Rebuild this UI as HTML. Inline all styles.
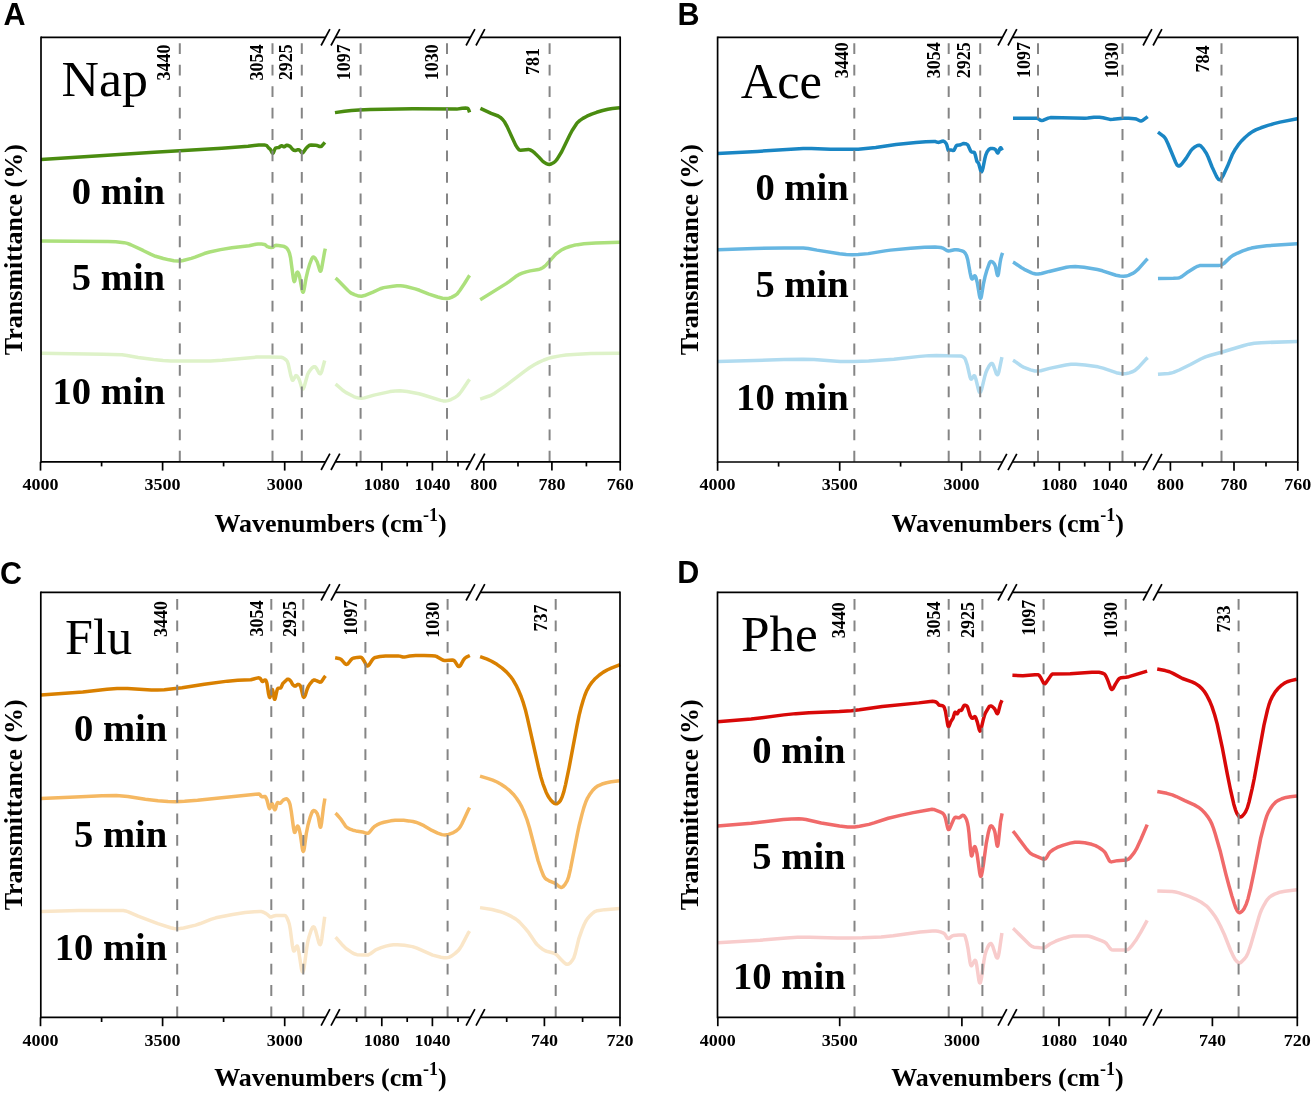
<!DOCTYPE html>
<html><head><meta charset="utf-8"><style>
html,body{margin:0;padding:0;background:#fff;}
body{width:1314px;height:1096px;overflow:hidden;}
svg{display:block;will-change:transform;}
</style></head><body>
<svg width="1314" height="1096" viewBox="0 0 1314 1096">
<rect width="1314" height="1096" fill="#fff"/>
<path d="M41.10,159.58 154.10,152.24 221.85,148.35 248.10,146.28 258.85,144.91 264.35,145.04 266.35,145.36 267.10,146.01 268.60,147.86 270.35,149.31 272.10,152.65 272.60,153.23 272.85,153.25 273.35,152.72 274.85,149.19 275.35,148.32 275.85,147.88 278.85,147.52 280.85,146.01 281.60,145.70 282.35,145.89 283.60,146.68 284.35,146.73 286.10,145.50 286.85,145.29 288.35,145.58 290.10,146.44 292.35,149.14 293.85,150.27 295.35,150.60 297.85,149.72 298.85,149.69 299.60,150.17 301.60,152.51 302.35,152.86 302.85,152.71 303.35,152.28 306.35,148.00 308.35,146.15 309.60,145.31 311.35,144.92 315.35,145.16 316.85,145.48 319.60,146.51 320.60,146.60 321.35,146.33 322.10,145.71 324.90,142.38" fill="none" stroke="#4a8c10" stroke-width="3.5" stroke-linejoin="round" stroke-linecap="butt"/>
<path d="M40.80,240.90 108.05,241.42 115.80,241.81 124.05,242.66 127.30,243.41 130.80,244.74 143.05,250.46 151.05,254.43 155.55,256.28 163.30,258.47 169.05,259.85 173.80,260.65 178.30,260.99 180.55,260.92 183.05,260.54 191.30,258.33 195.05,257.10 204.30,253.55 209.55,252.05 220.55,249.62 231.80,247.70 249.05,245.73 255.80,244.28 258.05,244.02 261.55,244.10 264.30,244.39 265.30,244.86 266.80,246.23 267.55,246.68 269.30,247.21 271.30,247.54 272.80,247.31 274.80,245.70 275.80,245.35 278.30,245.44 281.55,245.91 284.30,246.57 285.80,247.33 287.30,248.78 288.55,250.82 289.55,253.48 290.55,257.74 293.30,278.20 293.80,280.77 294.30,281.59 294.80,280.77 296.80,272.80 297.30,272.13 297.55,272.10 298.05,272.53 298.80,273.97 299.55,276.36 302.05,290.09 302.55,291.72 303.05,292.20 303.55,291.45 304.05,289.59 306.05,278.22 308.05,269.67 309.80,263.82 311.80,258.69 312.80,257.24 313.55,257.04 314.55,257.68 315.55,258.95 317.30,262.25 319.80,270.52 320.30,271.24 320.55,271.26 321.05,270.50 321.80,267.51 324.55,251.89 325.30,248.61" fill="none" stroke="#ace07c" stroke-width="3.5" stroke-linejoin="round" stroke-linecap="butt"/>
<path d="M41.10,353.24 102.85,354.22 122.10,354.82 127.10,355.41 138.10,357.49 153.60,359.56 163.10,360.57 170.85,360.96 210.35,360.89 222.10,360.17 256.85,357.09 268.60,357.02 281.10,357.28 282.85,357.78 284.60,358.78 286.35,360.21 287.35,361.52 288.35,364.31 290.85,375.82 292.10,379.75 292.60,380.30 293.10,380.21 295.60,375.89 296.10,375.61 296.85,375.90 297.85,377.13 299.10,379.44 299.85,381.39 301.60,387.44 302.10,388.60 302.60,389.12 302.85,389.12 303.35,388.64 304.10,386.95 307.60,374.51 308.60,372.48 310.60,369.61 311.85,368.16 313.10,367.11 314.10,366.66 315.10,366.76 316.35,368.13 319.10,373.13 319.85,373.82 320.35,373.84 321.10,372.96 321.85,371.01 324.70,360.49" fill="none" stroke="#def2c8" stroke-width="3.5" stroke-linejoin="round" stroke-linecap="butt"/>
<path d="M334.97,112.63 344.47,111.24 351.47,110.52 358.97,109.97 369.97,109.51 384.47,109.13 412.72,108.80 456.72,109.11 462.22,108.27 465.72,108.04 466.97,108.15 467.97,108.66 468.72,109.92 469.59,112.40" fill="none" stroke="#4a8c10" stroke-width="3.5" stroke-linejoin="round" stroke-linecap="butt"/>
<path d="M335.48,278.04 336.48,278.82 347.98,290.46 350.23,292.48 351.73,293.44 354.48,294.70 358.73,296.06 361.48,296.23 364.48,295.58 372.98,292.10 380.23,288.78 383.73,287.61 392.98,286.16 396.98,285.82 400.48,285.76 402.98,285.95 405.98,286.45 415.23,288.85 419.48,290.27 428.98,294.14 437.73,296.98 442.48,298.21 446.48,298.59 448.98,298.24 451.48,297.36 455.23,295.36 457.23,293.84 459.98,290.29 464.48,283.49 468.73,276.60 469.66,275.39" fill="none" stroke="#ace07c" stroke-width="3.5" stroke-linejoin="round" stroke-linecap="butt"/>
<path d="M335.48,384.10 336.73,384.97 342.73,390.26 345.73,392.40 353.73,396.54 356.48,397.57 358.73,398.10 361.48,398.26 364.48,397.87 373.98,395.15 389.98,391.60 395.23,390.90 399.98,390.79 407.23,391.54 418.98,393.79 423.48,395.00 440.73,400.37 443.23,400.89 445.48,401.00 447.98,400.61 450.98,399.54 455.48,397.19 457.73,395.58 459.48,393.75 461.23,391.52 467.98,381.45 469.66,379.39" fill="none" stroke="#def2c8" stroke-width="3.5" stroke-linejoin="round" stroke-linecap="butt"/>
<path d="M480.40,108.41 491.15,113.38 498.15,115.99 500.40,117.41 502.65,119.48 504.65,122.05 507.15,126.62 515.65,145.11 517.40,147.88 518.90,149.67 519.65,150.13 520.65,150.25 528.40,149.44 529.40,149.61 530.65,150.12 532.65,151.26 534.40,152.65 538.90,157.12 542.15,160.68 543.65,162.03 546.90,163.92 548.15,164.35 549.15,164.46 551.15,164.02 553.90,162.54 555.40,161.26 557.15,159.07 561.65,151.75 569.90,134.71 572.15,130.48 576.40,123.97 577.90,122.22 579.65,120.64 582.90,118.36 586.90,116.20 591.65,114.10 596.65,112.30 602.65,110.52 607.90,109.28 612.40,108.55 619.80,107.72" fill="none" stroke="#4a8c10" stroke-width="3.5" stroke-linejoin="round" stroke-linecap="butt"/>
<path d="M480.18,299.67 506.18,283.62 509.43,281.39 515.68,276.52 518.68,274.65 522.18,273.15 526.18,271.83 530.18,270.87 538.43,269.56 540.43,268.91 542.68,267.74 544.43,266.55 546.18,264.93 554.43,255.55 556.43,253.55 560.93,250.30 565.18,248.12 569.68,246.49 573.93,245.33 577.68,244.65 583.93,243.86 595.68,243.03 619.82,242.33" fill="none" stroke="#ace07c" stroke-width="3.5" stroke-linejoin="round" stroke-linecap="butt"/>
<path d="M480.18,399.12 489.18,396.03 491.93,394.81 494.43,393.43 505.68,385.68 524.43,371.32 529.43,367.80 534.68,364.53 538.68,362.35 543.93,360.01 548.43,358.33 552.68,357.20 559.93,355.87 565.93,355.10 573.43,354.48 590.93,353.58 619.82,353.20" fill="none" stroke="#def2c8" stroke-width="3.5" stroke-linejoin="round" stroke-linecap="butt"/>
<line x1="179.8" y1="43.3" x2="179.8" y2="461.8" stroke="#858585" stroke-width="2" stroke-dasharray="10.8 10.65"/>
<line x1="272.5" y1="43.3" x2="272.5" y2="461.8" stroke="#858585" stroke-width="2" stroke-dasharray="10.8 10.65"/>
<line x1="301.8" y1="43.3" x2="301.8" y2="461.8" stroke="#858585" stroke-width="2" stroke-dasharray="10.8 10.65"/>
<line x1="360.6" y1="43.3" x2="360.6" y2="461.8" stroke="#858585" stroke-width="2" stroke-dasharray="10.8 10.65"/>
<line x1="447.0" y1="43.3" x2="447.0" y2="461.8" stroke="#858585" stroke-width="2" stroke-dasharray="10.8 10.65"/>
<line x1="549.6" y1="43.3" x2="549.6" y2="461.8" stroke="#858585" stroke-width="2" stroke-dasharray="10.8 10.65"/>
<g stroke="#000" stroke-width="1.7" fill="none">
<path d="M41.0,37.3 V461.8" stroke-linecap="square"/>
<path d="M620.2,37.3 V461.8" stroke-linecap="square"/>
<path d="M41.0,37.3 H325.5 M335.4,37.3 H470.5 M480.4,37.3 H620.2"/>
<path d="M321.1,45.5 L329.9,29.1"/>
<path d="M331.0,45.5 L339.8,29.1"/>
<path d="M466.1,45.5 L474.9,29.1"/>
<path d="M476.0,45.5 L484.8,29.1"/>
<path d="M41.0,461.8 H325.5 M335.4,461.8 H470.5 M480.4,461.8 H620.2"/>
<path d="M321.1,470.0 L329.9,453.6"/>
<path d="M331.0,470.0 L339.8,453.6"/>
<path d="M466.1,470.0 L474.9,453.6"/>
<path d="M476.0,470.0 L484.8,453.6"/>
<path d="M40.5,461.8 V470.6"/>
<path d="M162.6,461.8 V470.6"/>
<path d="M284.7,461.8 V470.6"/>
<path d="M381.8,461.8 V470.6"/>
<path d="M432.4,461.8 V470.6"/>
<path d="M483.8,461.8 V470.6"/>
<path d="M551.9,461.8 V470.6"/>
<path d="M620.2,461.8 V470.6"/>
<path d="M101.6,461.8 V466.4"/>
<path d="M223.6,461.8 V466.4"/>
<path d="M356.6,461.8 V466.4"/>
<path d="M407.2,461.8 V466.4"/>
<path d="M458.0,461.8 V466.4"/>
<path d="M518.0,461.8 V466.4"/>
<path d="M586.4,461.8 V466.4"/>
</g>
<text transform="translate(40.5,490.0) scale(1.03,1)" text-anchor="middle" font-family='"Liberation Serif", serif' font-weight="bold" font-size="17.5">4000</text>
<text transform="translate(162.6,490.0) scale(1.03,1)" text-anchor="middle" font-family='"Liberation Serif", serif' font-weight="bold" font-size="17.5">3500</text>
<text transform="translate(284.7,490.0) scale(1.03,1)" text-anchor="middle" font-family='"Liberation Serif", serif' font-weight="bold" font-size="17.5">3000</text>
<text transform="translate(381.8,490.0) scale(1.03,1)" text-anchor="middle" font-family='"Liberation Serif", serif' font-weight="bold" font-size="17.5">1080</text>
<text transform="translate(432.4,490.0) scale(1.03,1)" text-anchor="middle" font-family='"Liberation Serif", serif' font-weight="bold" font-size="17.5">1040</text>
<text transform="translate(483.8,490.0) scale(1.03,1)" text-anchor="middle" font-family='"Liberation Serif", serif' font-weight="bold" font-size="17.5">800</text>
<text transform="translate(551.9,490.0) scale(1.03,1)" text-anchor="middle" font-family='"Liberation Serif", serif' font-weight="bold" font-size="17.5">780</text>
<text transform="translate(620.2,490.0) scale(1.03,1)" text-anchor="middle" font-family='"Liberation Serif", serif' font-weight="bold" font-size="17.5">760</text>
<text transform="translate(170.00,62.55) rotate(-90)" text-anchor="middle" font-family='"Liberation Serif", serif' font-weight="bold" font-size="18">3440</text>
<text transform="translate(262.80,62.40) rotate(-90)" text-anchor="middle" font-family='"Liberation Serif", serif' font-weight="bold" font-size="18">3054</text>
<text transform="translate(292.00,62.30) rotate(-90)" text-anchor="middle" font-family='"Liberation Serif", serif' font-weight="bold" font-size="18">2925</text>
<text transform="translate(349.70,62.20) rotate(-90)" text-anchor="middle" font-family='"Liberation Serif", serif' font-weight="bold" font-size="18">1097</text>
<text transform="translate(438.20,62.20) rotate(-90)" text-anchor="middle" font-family='"Liberation Serif", serif' font-weight="bold" font-size="18">1030</text>
<text transform="translate(538.90,61.60) rotate(-90)" text-anchor="middle" font-family='"Liberation Serif", serif' font-weight="bold" font-size="18">781</text>
<text transform="translate(61.60,96.3) scale(1.037,1)" font-family='"Liberation Serif", serif' font-size="50">Nap</text>
<text transform="translate(165.1,203.9) scale(1.03,1)" text-anchor="end" font-family='"Liberation Serif", serif' font-weight="bold" font-size="37.5">0 min</text>
<text transform="translate(165.1,290.0) scale(1.03,1)" text-anchor="end" font-family='"Liberation Serif", serif' font-weight="bold" font-size="37.5">5 min</text>
<text transform="translate(165.1,404.4) scale(1.03,1)" text-anchor="end" font-family='"Liberation Serif", serif' font-weight="bold" font-size="37.5">10 min</text>
<text x="3.4" y="24.8" font-family='"Liberation Sans", sans-serif' font-weight="bold" font-size="30.5">A</text>
<text transform="translate(21.6,249.6) rotate(-90)" text-anchor="middle" font-family='"Liberation Serif", serif' font-weight="bold" font-size="26">Transmittance (%)</text>
<text x="330.6" y="532.0" text-anchor="middle" font-family='"Liberation Serif", serif' font-weight="bold" font-size="26">Wavenumbers (cm<tspan font-size="18" dy="-11.5">-1</tspan><tspan dy="11.5">)</tspan></text>
<path d="M717.50,153.39 757.25,151.38 803.25,148.46 811.50,148.47 830.50,149.29 858.25,149.17 875.75,147.41 896.00,144.56 916.00,142.45 925.75,141.69 934.00,141.41 935.50,141.52 937.75,142.34 938.75,142.42 942.25,141.22 943.25,141.11 944.00,141.36 944.75,141.90 946.25,143.57 946.75,144.80 948.00,149.68 948.25,150.19 948.75,150.52 950.75,149.90 953.00,150.51 953.75,150.32 954.50,149.34 956.00,146.21 956.50,145.59 957.00,145.30 959.75,145.06 962.75,143.73 963.75,143.47 965.50,143.67 967.25,144.49 968.25,145.68 970.25,150.29 971.00,151.44 971.75,151.89 973.75,152.14 974.50,152.71 975.25,154.78 976.75,160.90 977.25,161.83 978.25,162.85 978.75,163.73 980.75,170.94 981.25,171.74 981.50,171.76 982.25,170.50 983.00,167.91 985.00,157.93 985.75,155.10 987.00,152.07 988.50,149.97 989.75,148.96 991.00,148.41 992.25,148.38 993.75,148.72 994.75,149.12 995.50,149.66 997.25,152.68 997.75,153.03 998.00,152.92 998.50,152.13 999.75,148.68 1000.50,147.67 1000.75,147.72 1001.25,148.30 1002.30,150.33" fill="none" stroke="#1a86c4" stroke-width="3.5" stroke-linejoin="round" stroke-linecap="butt"/>
<path d="M717.50,249.69 754.50,248.45 784.00,248.00 803.25,247.93 808.25,248.47 817.00,250.11 839.50,253.79 846.25,254.55 852.25,254.80 858.25,254.56 868.25,253.63 885.00,250.86 890.50,250.13 910.75,248.23 924.50,247.34 935.00,247.10 940.75,247.49 942.75,248.11 946.75,250.49 948.50,250.95 950.00,250.82 954.50,249.75 956.50,249.76 959.00,250.09 962.00,250.86 963.75,251.62 965.25,253.23 966.50,255.51 967.75,259.69 970.00,272.29 971.25,277.79 971.75,278.85 972.25,279.03 972.75,278.52 974.00,276.29 974.75,275.71 975.25,276.07 975.75,277.05 977.25,282.49 979.50,295.90 980.00,297.77 980.50,298.42 981.00,297.72 981.50,295.81 983.50,283.59 985.00,276.77 987.00,269.82 989.50,262.88 990.50,261.55 991.50,261.40 993.00,262.31 994.50,264.08 995.50,266.56 997.00,273.92 997.50,275.43 997.75,275.61 998.00,275.35 998.50,273.50 1000.00,262.97 1000.75,258.89 1001.75,255.16 1002.60,252.79" fill="none" stroke="#66b6e2" stroke-width="3.5" stroke-linejoin="round" stroke-linecap="butt"/>
<path d="M717.65,361.62 783.90,359.52 802.90,359.20 813.90,359.55 840.15,361.45 846.40,361.62 854.15,361.55 868.65,360.93 893.90,359.25 919.90,356.38 929.15,355.63 936.40,355.46 947.40,355.87 960.40,355.94 961.90,356.29 963.65,357.19 964.65,358.15 965.40,359.51 967.40,365.57 969.90,376.63 970.65,378.75 971.15,379.21 971.65,379.01 973.90,375.83 974.40,375.79 974.90,376.32 975.90,379.09 978.65,390.51 979.40,392.17 979.90,392.51 980.65,391.89 981.65,389.40 984.90,375.92 985.90,372.49 987.15,369.56 989.15,365.86 990.90,363.73 991.65,363.39 992.40,363.68 992.90,364.35 993.65,366.00 996.40,373.80 997.15,374.77 997.65,374.74 998.15,374.04 998.90,371.77 1001.91,357.19" fill="none" stroke="#b0dbf0" stroke-width="3.5" stroke-linejoin="round" stroke-linecap="butt"/>
<path d="M1012.99,118.26 1036.74,118.29 1037.99,118.62 1040.49,120.19 1041.74,120.49 1043.49,120.18 1048.24,118.11 1050.49,117.61 1084.99,118.25 1087.74,118.08 1093.99,117.25 1096.74,117.13 1099.49,117.32 1102.99,117.83 1109.99,119.39 1112.99,119.27 1122.99,118.28 1128.74,118.35 1134.49,118.67 1136.24,119.04 1139.74,120.75 1140.99,120.93 1141.99,120.71 1142.99,120.21 1147.69,116.60" fill="none" stroke="#1a86c4" stroke-width="3.5" stroke-linejoin="round" stroke-linecap="butt"/>
<path d="M1012.99,262.11 1014.24,262.78 1021.24,267.53 1024.24,269.30 1031.74,272.85 1033.74,273.55 1035.74,273.97 1038.24,274.00 1041.49,273.51 1049.24,271.43 1066.49,267.25 1070.99,266.64 1075.24,266.56 1083.99,267.31 1097.49,269.49 1102.49,270.79 1115.99,275.23 1119.99,276.06 1123.74,276.34 1125.99,276.08 1128.49,275.32 1132.74,273.42 1134.99,272.05 1138.49,268.87 1145.99,260.34 1147.69,258.76" fill="none" stroke="#66b6e2" stroke-width="3.5" stroke-linejoin="round" stroke-linecap="butt"/>
<path d="M1012.99,360.29 1014.49,361.14 1020.99,365.72 1023.99,367.45 1030.49,369.90 1034.99,370.96 1037.74,371.07 1040.74,370.69 1049.49,368.38 1065.74,364.96 1070.99,364.34 1075.99,364.29 1084.99,364.99 1097.99,366.82 1102.99,368.17 1116.24,372.71 1120.24,373.56 1123.99,373.82 1126.49,373.55 1129.24,372.84 1132.99,371.48 1134.99,370.39 1138.49,367.40 1145.99,359.13 1147.69,357.61" fill="none" stroke="#b0dbf0" stroke-width="3.5" stroke-linejoin="round" stroke-linecap="butt"/>
<path d="M1157.97,132.15 1162.97,135.79 1164.47,137.31 1165.72,139.06 1167.97,143.71 1175.72,162.54 1176.97,164.85 1178.22,166.00 1178.97,166.06 1179.97,165.64 1181.97,163.75 1186.22,158.17 1190.72,150.84 1192.47,148.89 1195.22,146.74 1197.47,145.54 1199.22,145.29 1199.97,145.48 1200.97,146.09 1203.22,148.59 1206.47,153.51 1208.22,157.26 1211.97,166.76 1216.22,175.88 1217.22,177.68 1218.22,179.01 1218.97,179.60 1219.72,179.76 1220.47,179.47 1221.22,178.77 1222.97,175.94 1227.47,166.30 1232.22,154.72 1235.47,148.94 1238.22,144.94 1241.22,141.26 1244.97,137.47 1248.72,134.23 1252.47,131.61 1256.22,129.67 1260.97,127.76 1267.97,125.44 1273.97,123.65 1279.97,122.14 1297.24,118.75" fill="none" stroke="#1a86c4" stroke-width="3.5" stroke-linejoin="round" stroke-linecap="butt"/>
<path d="M1157.97,278.62 1173.47,278.23 1177.97,277.98 1179.47,277.74 1181.72,276.63 1186.72,272.84 1194.72,267.73 1197.47,266.30 1199.72,265.58 1201.72,265.39 1219.22,265.38 1220.97,265.13 1222.47,264.44 1223.97,263.37 1230.22,257.37 1232.97,255.31 1237.72,253.03 1242.72,250.91 1247.22,249.30 1251.47,248.07 1257.22,246.96 1266.72,245.83 1281.47,244.66 1297.24,243.71" fill="none" stroke="#66b6e2" stroke-width="3.5" stroke-linejoin="round" stroke-linecap="butt"/>
<path d="M1157.97,374.27 1168.72,373.46 1170.97,373.10 1173.47,372.42 1179.22,370.01 1190.47,364.47 1200.72,358.99 1205.47,356.88 1210.47,355.24 1221.47,352.27 1243.97,345.51 1248.97,344.17 1254.22,343.20 1261.22,342.68 1297.24,341.43" fill="none" stroke="#b0dbf0" stroke-width="3.5" stroke-linejoin="round" stroke-linecap="butt"/>
<line x1="854.3" y1="43.3" x2="854.3" y2="462.0" stroke="#858585" stroke-width="2" stroke-dasharray="10.8 10.65"/>
<line x1="948.7" y1="43.3" x2="948.7" y2="462.0" stroke="#858585" stroke-width="2" stroke-dasharray="10.8 10.65"/>
<line x1="980.2" y1="43.3" x2="980.2" y2="462.0" stroke="#858585" stroke-width="2" stroke-dasharray="10.8 10.65"/>
<line x1="1038.0" y1="43.3" x2="1038.0" y2="462.0" stroke="#858585" stroke-width="2" stroke-dasharray="10.8 10.65"/>
<line x1="1122.5" y1="43.3" x2="1122.5" y2="462.0" stroke="#858585" stroke-width="2" stroke-dasharray="10.8 10.65"/>
<line x1="1221.5" y1="43.3" x2="1221.5" y2="462.0" stroke="#858585" stroke-width="2" stroke-dasharray="10.8 10.65"/>
<g stroke="#000" stroke-width="1.7" fill="none">
<path d="M717.6,37.3 V462.0" stroke-linecap="square"/>
<path d="M1297.8,37.3 V462.0" stroke-linecap="square"/>
<path d="M717.6,37.3 H1002.4 M1012.4,37.3 H1147.5 M1157.5,37.3 H1297.8"/>
<path d="M998.0,45.5 L1006.8,29.1"/>
<path d="M1008.0,45.5 L1016.8,29.1"/>
<path d="M1143.1,45.5 L1151.9,29.1"/>
<path d="M1153.1,45.5 L1161.9,29.1"/>
<path d="M717.6,462.0 H1002.4 M1012.4,462.0 H1147.5 M1157.5,462.0 H1297.8"/>
<path d="M998.0,470.2 L1006.8,453.8"/>
<path d="M1008.0,470.2 L1016.8,453.8"/>
<path d="M1143.1,470.2 L1151.9,453.8"/>
<path d="M1153.1,470.2 L1161.9,453.8"/>
<path d="M717.6,462.0 V470.8"/>
<path d="M839.7,462.0 V470.8"/>
<path d="M961.6,462.0 V470.8"/>
<path d="M1059.3,462.0 V470.8"/>
<path d="M1109.7,462.0 V470.8"/>
<path d="M1170.4,462.0 V470.8"/>
<path d="M1234.0,462.0 V470.8"/>
<path d="M1297.8,462.0 V470.8"/>
<path d="M778.6,462.0 V466.6"/>
<path d="M900.6,462.0 V466.6"/>
<path d="M1034.3,462.0 V466.6"/>
<path d="M1084.7,462.0 V466.6"/>
<path d="M1135.0,462.0 V466.6"/>
<path d="M1202.3,462.0 V466.6"/>
<path d="M1266.0,462.0 V466.6"/>
</g>
<text transform="translate(717.6,490.2) scale(1.03,1)" text-anchor="middle" font-family='"Liberation Serif", serif' font-weight="bold" font-size="17.5">4000</text>
<text transform="translate(839.7,490.2) scale(1.03,1)" text-anchor="middle" font-family='"Liberation Serif", serif' font-weight="bold" font-size="17.5">3500</text>
<text transform="translate(961.6,490.2) scale(1.03,1)" text-anchor="middle" font-family='"Liberation Serif", serif' font-weight="bold" font-size="17.5">3000</text>
<text transform="translate(1059.3,490.2) scale(1.03,1)" text-anchor="middle" font-family='"Liberation Serif", serif' font-weight="bold" font-size="17.5">1080</text>
<text transform="translate(1109.7,490.2) scale(1.03,1)" text-anchor="middle" font-family='"Liberation Serif", serif' font-weight="bold" font-size="17.5">1040</text>
<text transform="translate(1170.4,490.2) scale(1.03,1)" text-anchor="middle" font-family='"Liberation Serif", serif' font-weight="bold" font-size="17.5">800</text>
<text transform="translate(1234.0,490.2) scale(1.03,1)" text-anchor="middle" font-family='"Liberation Serif", serif' font-weight="bold" font-size="17.5">780</text>
<text transform="translate(1297.8,490.2) scale(1.03,1)" text-anchor="middle" font-family='"Liberation Serif", serif' font-weight="bold" font-size="17.5">760</text>
<text transform="translate(847.80,60.25) rotate(-90)" text-anchor="middle" font-family='"Liberation Serif", serif' font-weight="bold" font-size="18">3440</text>
<text transform="translate(939.50,60.25) rotate(-90)" text-anchor="middle" font-family='"Liberation Serif", serif' font-weight="bold" font-size="18">3054</text>
<text transform="translate(969.70,60.25) rotate(-90)" text-anchor="middle" font-family='"Liberation Serif", serif' font-weight="bold" font-size="18">2925</text>
<text transform="translate(1029.80,59.90) rotate(-90)" text-anchor="middle" font-family='"Liberation Serif", serif' font-weight="bold" font-size="18">1097</text>
<text transform="translate(1117.90,60.20) rotate(-90)" text-anchor="middle" font-family='"Liberation Serif", serif' font-weight="bold" font-size="18">1030</text>
<text transform="translate(1208.70,58.95) rotate(-90)" text-anchor="middle" font-family='"Liberation Serif", serif' font-weight="bold" font-size="18">784</text>
<text transform="translate(740.80,97.8) scale(1.009,1)" font-family='"Liberation Serif", serif' font-size="50">Ace</text>
<text transform="translate(848.7,200.0) scale(1.03,1)" text-anchor="end" font-family='"Liberation Serif", serif' font-weight="bold" font-size="37.5">0 min</text>
<text transform="translate(848.7,296.6) scale(1.03,1)" text-anchor="end" font-family='"Liberation Serif", serif' font-weight="bold" font-size="37.5">5 min</text>
<text transform="translate(848.7,410.2) scale(1.03,1)" text-anchor="end" font-family='"Liberation Serif", serif' font-weight="bold" font-size="37.5">10 min</text>
<text x="677.4" y="24.8" font-family='"Liberation Sans", sans-serif' font-weight="bold" font-size="30.5">B</text>
<text transform="translate(698.3,249.7) rotate(-90)" text-anchor="middle" font-family='"Liberation Serif", serif' font-weight="bold" font-size="26">Transmittance (%)</text>
<text x="1007.7" y="532.0" text-anchor="middle" font-family='"Liberation Serif", serif' font-weight="bold" font-size="26">Wavenumbers (cm<tspan font-size="18" dy="-11.5">-1</tspan><tspan dy="11.5">)</tspan></text>
<path d="M40.80,695.08 82.80,692.02 107.05,689.28 117.05,688.51 122.30,688.40 127.55,688.54 151.30,690.07 157.30,690.04 164.30,689.64 182.05,687.85 204.30,684.23 227.55,681.14 237.80,680.24 250.80,679.81 256.80,678.13 258.80,677.85 259.55,678.00 260.30,678.46 262.05,681.23 262.55,681.55 263.05,681.38 264.80,679.94 265.30,679.94 265.80,680.36 266.55,681.93 267.05,683.89 268.55,693.88 269.30,696.95 269.80,697.43 270.05,697.15 271.55,690.93 272.05,689.65 272.30,689.56 272.80,690.72 274.05,698.03 274.55,699.31 274.80,699.25 275.30,698.03 276.80,691.06 277.55,688.75 278.30,688.15 280.05,688.08 280.80,687.77 281.30,687.02 282.80,683.56 287.30,679.27 287.80,679.14 288.55,679.25 290.05,680.21 290.80,681.20 292.55,684.29 293.30,685.17 294.30,685.94 295.05,686.14 295.55,686.02 297.30,684.68 298.05,684.36 298.80,684.46 299.80,685.13 300.80,686.90 302.80,695.45 303.30,696.83 303.80,697.33 304.55,696.81 305.30,695.32 307.05,689.48 308.30,686.49 309.80,684.11 312.55,680.78 313.55,680.10 314.55,680.01 316.30,680.56 319.80,682.16 320.80,682.12 321.55,681.45 324.05,677.70 325.50,675.99" fill="none" stroke="#d98000" stroke-width="3.5" stroke-linejoin="round" stroke-linecap="butt"/>
<path d="M40.80,798.39 75.55,797.01 102.05,795.69 116.30,795.42 127.80,796.47 145.30,799.27 158.05,800.70 168.05,801.53 176.30,801.67 184.55,801.30 197.55,800.35 255.55,794.15 258.80,793.94 259.80,794.35 261.05,796.14 261.80,796.79 262.55,796.84 264.80,796.45 265.30,796.68 265.80,797.27 267.05,800.28 268.55,806.46 269.30,808.47 269.55,808.61 270.05,808.04 271.30,804.44 271.80,803.66 272.05,803.61 272.55,804.20 274.05,808.59 274.80,809.79 275.05,809.73 275.55,808.79 276.80,804.11 277.55,802.61 278.05,802.47 279.55,803.22 280.30,803.22 280.80,802.89 282.55,800.75 283.55,799.90 285.30,798.95 286.55,798.86 287.55,799.48 288.55,800.76 289.30,802.19 290.05,804.47 291.30,811.47 293.55,828.25 294.30,831.92 294.55,832.38 294.80,832.48 295.05,832.25 296.80,827.18 297.55,826.06 297.80,826.07 298.30,826.64 299.05,828.57 300.30,834.29 302.30,848.29 302.80,850.56 303.30,851.44 303.80,850.64 304.30,848.21 306.30,833.53 308.05,824.72 310.30,816.81 311.55,813.37 312.55,811.38 313.55,810.50 314.55,810.64 316.05,811.89 317.30,813.75 318.30,817.07 319.80,825.69 320.30,827.16 320.55,827.24 320.80,826.86 321.55,823.12 323.55,806.73 324.90,798.48" fill="none" stroke="#f5b862" stroke-width="3.5" stroke-linejoin="round" stroke-linecap="butt"/>
<path d="M41.10,911.47 78.60,910.40 123.35,910.49 125.60,910.92 128.35,911.80 138.10,916.08 157.85,923.58 170.60,927.72 173.85,928.43 176.60,928.68 179.85,928.53 183.60,927.99 195.60,925.09 200.35,923.51 210.85,919.34 215.85,917.82 232.60,914.44 245.10,912.50 254.35,911.66 259.60,911.49 261.60,911.59 263.60,912.24 266.10,913.61 267.60,914.63 269.60,916.59 270.60,917.07 271.60,916.93 273.85,915.95 276.10,915.53 284.85,915.53 285.85,916.11 286.85,917.62 288.35,921.27 289.35,924.55 290.35,929.90 292.35,945.29 293.35,950.24 293.85,951.08 294.35,950.92 296.10,946.99 296.85,945.93 297.35,946.13 297.85,947.25 298.85,952.05 301.35,968.54 302.10,971.35 302.60,971.98 302.85,971.88 303.35,970.85 304.10,967.53 306.85,947.30 307.85,941.39 309.10,936.49 311.10,930.35 312.10,928.16 312.85,927.12 313.60,926.79 314.35,927.38 315.60,930.52 318.85,942.71 319.60,944.29 320.10,944.63 320.35,944.50 321.10,942.65 321.85,938.60 324.70,916.75" fill="none" stroke="#fae6c8" stroke-width="3.5" stroke-linejoin="round" stroke-linecap="butt"/>
<path d="M335.14,657.74 338.89,658.45 340.64,659.09 341.89,660.15 344.89,663.60 345.89,664.28 346.64,664.40 347.39,664.14 348.14,663.53 351.14,659.67 352.64,658.41 354.14,657.95 357.14,657.39 359.64,657.16 360.89,657.24 361.64,657.62 362.64,658.72 364.39,661.46 366.14,664.99 366.89,665.88 367.39,666.03 368.14,665.72 369.14,664.71 372.39,659.74 373.89,658.11 375.39,657.48 379.89,656.56 385.64,656.01 398.14,655.99 399.64,656.12 402.89,656.95 404.39,657.09 409.64,656.02 415.64,655.62 424.14,655.41 431.89,655.71 434.89,655.98 436.39,656.38 442.64,659.99 443.89,660.46 445.89,660.49 452.14,660.01 453.64,660.21 454.89,661.39 457.64,665.73 458.39,666.44 458.89,666.62 459.64,666.40 460.39,665.63 463.39,660.12 464.64,658.41 466.39,657.15 469.84,655.52" fill="none" stroke="#d98000" stroke-width="3.5" stroke-linejoin="round" stroke-linecap="butt"/>
<path d="M335.43,813.11 336.68,814.25 340.43,818.53 345.18,825.56 346.18,826.76 347.43,827.77 349.93,829.09 352.93,830.18 355.93,830.90 362.43,831.91 366.43,833.33 367.68,833.32 368.68,832.84 369.93,831.71 373.18,827.70 374.43,826.46 376.93,824.94 380.18,823.44 383.93,822.24 390.68,820.85 395.18,820.27 399.43,820.14 403.68,820.36 408.68,820.89 412.93,821.50 415.68,822.22 418.93,823.44 423.93,825.67 431.93,830.46 437.68,833.10 441.93,834.63 445.18,835.00 448.68,834.37 453.43,832.61 456.43,830.81 458.93,828.57 460.43,826.51 461.93,823.77 468.68,809.24 469.61,807.56" fill="none" stroke="#f5b862" stroke-width="3.5" stroke-linejoin="round" stroke-linecap="butt"/>
<path d="M335.43,937.19 336.68,938.32 342.93,945.59 345.93,948.47 352.43,952.85 354.93,954.05 356.93,954.63 364.18,955.04 366.93,955.07 368.18,954.90 370.43,953.76 375.68,949.77 381.18,947.64 385.93,946.13 389.93,945.19 393.43,944.75 397.18,944.73 404.43,945.33 412.43,946.63 416.93,948.22 432.68,955.16 440.93,957.28 443.93,957.73 446.43,957.85 448.93,957.36 451.43,956.12 455.18,953.36 458.43,950.40 459.93,948.43 461.68,945.63 468.18,933.28 469.61,931.09" fill="none" stroke="#fae6c8" stroke-width="3.5" stroke-linejoin="round" stroke-linecap="butt"/>
<path d="M480.11,656.66 487.11,659.14 491.61,661.22 496.86,664.35 502.11,668.18 506.61,672.18 510.36,676.32 513.11,680.09 516.11,685.36 518.86,691.08 521.11,696.53 523.36,702.94 525.36,709.65 527.36,717.84 538.86,769.04 540.86,776.98 542.86,783.53 546.11,792.15 547.61,795.24 549.11,797.77 550.86,800.20 552.36,801.75 554.36,803.31 555.86,803.85 556.86,803.71 558.11,803.02 559.36,801.95 560.36,800.67 562.11,796.98 563.86,791.61 565.61,784.33 569.11,767.57 577.11,725.10 579.11,715.31 580.86,708.32 583.11,700.52 584.86,695.27 586.61,690.96 589.11,686.36 592.11,682.07 595.36,678.45 599.36,674.95 603.36,672.15 607.61,669.77 611.86,667.87 620.18,664.66" fill="none" stroke="#d98000" stroke-width="3.5" stroke-linejoin="round" stroke-linecap="butt"/>
<path d="M480.02,776.14 488.27,778.59 492.77,780.14 497.02,781.99 501.02,784.20 505.52,787.24 510.02,790.91 513.27,794.21 516.52,798.26 519.52,802.75 521.77,806.91 524.27,812.52 527.02,819.75 529.52,828.02 538.02,860.45 541.27,870.20 543.52,875.75 545.02,878.11 546.77,879.58 549.02,880.81 554.77,883.21 556.27,884.18 559.52,886.80 560.52,887.29 561.27,887.43 562.02,887.30 563.02,886.73 564.77,884.78 567.27,880.56 568.52,877.23 570.52,868.78 577.52,833.05 579.27,824.95 582.02,814.14 584.02,807.10 585.77,801.95 587.52,798.07 590.02,793.94 592.77,790.24 595.27,787.69 598.02,785.82 602.02,784.05 606.52,782.72 611.27,781.82 619.58,780.70" fill="none" stroke="#f5b862" stroke-width="3.5" stroke-linejoin="round" stroke-linecap="butt"/>
<path d="M480.02,907.63 492.02,909.54 499.52,911.44 503.77,912.94 507.77,914.65 511.77,916.67 515.52,918.87 517.52,920.35 519.77,922.38 525.02,928.11 528.77,932.72 535.52,942.75 537.02,944.48 539.52,946.83 542.52,949.18 545.27,950.74 547.52,951.54 553.27,952.98 555.77,954.09 557.27,955.35 560.52,958.97 564.52,962.88 566.02,963.97 567.27,964.34 568.77,963.96 570.27,962.80 572.27,960.39 573.77,957.89 575.27,953.37 578.77,938.95 582.02,929.61 584.02,924.73 585.77,921.21 587.27,918.90 590.02,915.71 592.02,913.75 593.77,912.34 595.52,911.29 597.27,910.67 604.77,909.64 619.58,908.60" fill="none" stroke="#fae6c8" stroke-width="3.5" stroke-linejoin="round" stroke-linecap="butt"/>
<line x1="177.2" y1="599.0" x2="177.2" y2="1017.4" stroke="#858585" stroke-width="2" stroke-dasharray="10.8 10.65"/>
<line x1="271.3" y1="599.0" x2="271.3" y2="1017.4" stroke="#858585" stroke-width="2" stroke-dasharray="10.8 10.65"/>
<line x1="303.3" y1="599.0" x2="303.3" y2="1017.4" stroke="#858585" stroke-width="2" stroke-dasharray="10.8 10.65"/>
<line x1="365.4" y1="599.0" x2="365.4" y2="1017.4" stroke="#858585" stroke-width="2" stroke-dasharray="10.8 10.65"/>
<line x1="447.6" y1="599.0" x2="447.6" y2="1017.4" stroke="#858585" stroke-width="2" stroke-dasharray="10.8 10.65"/>
<line x1="555.7" y1="599.0" x2="555.7" y2="1017.4" stroke="#858585" stroke-width="2" stroke-dasharray="10.8 10.65"/>
<g stroke="#000" stroke-width="1.7" fill="none">
<path d="M40.8,592.3 V1017.4" stroke-linecap="square"/>
<path d="M620.0,592.3 V1017.4" stroke-linecap="square"/>
<path d="M40.8,592.3 H325.5 M335.4,592.3 H470.5 M480.4,592.3 H620.0"/>
<path d="M321.1,600.5 L329.9,584.1"/>
<path d="M331.0,600.5 L339.8,584.1"/>
<path d="M466.1,600.5 L474.9,584.1"/>
<path d="M476.0,600.5 L484.8,584.1"/>
<path d="M40.8,1017.4 H325.5 M335.4,1017.4 H470.5 M480.4,1017.4 H620.0"/>
<path d="M321.1,1025.6 L329.9,1009.2"/>
<path d="M331.0,1025.6 L339.8,1009.2"/>
<path d="M466.1,1025.6 L474.9,1009.2"/>
<path d="M476.0,1025.6 L484.8,1009.2"/>
<path d="M40.5,1017.4 V1026.2"/>
<path d="M162.6,1017.4 V1026.2"/>
<path d="M284.7,1017.4 V1026.2"/>
<path d="M381.8,1017.4 V1026.2"/>
<path d="M432.4,1017.4 V1026.2"/>
<path d="M544.4,1017.4 V1026.2"/>
<path d="M620.0,1017.4 V1026.2"/>
<path d="M101.6,1017.4 V1022.0"/>
<path d="M223.6,1017.4 V1022.0"/>
<path d="M356.6,1017.4 V1022.0"/>
<path d="M407.2,1017.4 V1022.0"/>
<path d="M458.0,1017.4 V1022.0"/>
<path d="M506.7,1017.4 V1022.0"/>
<path d="M582.6,1017.4 V1022.0"/>
</g>
<text transform="translate(40.5,1045.6) scale(1.03,1)" text-anchor="middle" font-family='"Liberation Serif", serif' font-weight="bold" font-size="17.5">4000</text>
<text transform="translate(162.6,1045.6) scale(1.03,1)" text-anchor="middle" font-family='"Liberation Serif", serif' font-weight="bold" font-size="17.5">3500</text>
<text transform="translate(284.7,1045.6) scale(1.03,1)" text-anchor="middle" font-family='"Liberation Serif", serif' font-weight="bold" font-size="17.5">3000</text>
<text transform="translate(381.8,1045.6) scale(1.03,1)" text-anchor="middle" font-family='"Liberation Serif", serif' font-weight="bold" font-size="17.5">1080</text>
<text transform="translate(432.4,1045.6) scale(1.03,1)" text-anchor="middle" font-family='"Liberation Serif", serif' font-weight="bold" font-size="17.5">1040</text>
<text transform="translate(544.4,1045.6) scale(1.03,1)" text-anchor="middle" font-family='"Liberation Serif", serif' font-weight="bold" font-size="17.5">740</text>
<text transform="translate(620.0,1045.6) scale(1.03,1)" text-anchor="middle" font-family='"Liberation Serif", serif' font-weight="bold" font-size="17.5">720</text>
<text transform="translate(167.40,619.10) rotate(-90)" text-anchor="middle" font-family='"Liberation Serif", serif' font-weight="bold" font-size="18">3440</text>
<text transform="translate(262.60,618.50) rotate(-90)" text-anchor="middle" font-family='"Liberation Serif", serif' font-weight="bold" font-size="18">3054</text>
<text transform="translate(296.20,618.90) rotate(-90)" text-anchor="middle" font-family='"Liberation Serif", serif' font-weight="bold" font-size="18">2925</text>
<text transform="translate(357.00,617.40) rotate(-90)" text-anchor="middle" font-family='"Liberation Serif", serif' font-weight="bold" font-size="18">1097</text>
<text transform="translate(439.00,619.70) rotate(-90)" text-anchor="middle" font-family='"Liberation Serif", serif' font-weight="bold" font-size="18">1030</text>
<text transform="translate(547.40,617.95) rotate(-90)" text-anchor="middle" font-family='"Liberation Serif", serif' font-weight="bold" font-size="18">737</text>
<text transform="translate(65.00,654.4) scale(1.006,1)" font-family='"Liberation Serif", serif' font-size="50">Flu</text>
<text transform="translate(167.3,741.1) scale(1.03,1)" text-anchor="end" font-family='"Liberation Serif", serif' font-weight="bold" font-size="37.5">0 min</text>
<text transform="translate(167.3,846.5) scale(1.03,1)" text-anchor="end" font-family='"Liberation Serif", serif' font-weight="bold" font-size="37.5">5 min</text>
<text transform="translate(167.3,960.0) scale(1.03,1)" text-anchor="end" font-family='"Liberation Serif", serif' font-weight="bold" font-size="37.5">10 min</text>
<text x="-0.1" y="583.8" font-family='"Liberation Sans", sans-serif' font-weight="bold" font-size="30.5">C</text>
<text transform="translate(21.6,804.8) rotate(-90)" text-anchor="middle" font-family='"Liberation Serif", serif' font-weight="bold" font-size="26">Transmittance (%)</text>
<text x="330.4" y="1086.4" text-anchor="middle" font-family='"Liberation Serif", serif' font-weight="bold" font-size="26">Wavenumbers (cm<tspan font-size="18" dy="-11.5">-1</tspan><tspan dy="11.5">)</tspan></text>
<path d="M717.50,721.78 751.25,719.03 783.75,714.88 795.75,713.63 809.00,712.80 839.25,711.51 851.50,710.68 859.50,709.72 882.25,706.42 918.75,702.87 930.25,701.43 932.50,701.32 934.25,701.52 936.00,702.02 937.00,702.71 939.00,705.03 939.75,705.32 942.75,705.73 943.75,706.55 944.50,708.12 945.50,711.52 947.50,723.56 948.00,725.77 948.50,726.65 948.75,726.59 949.25,725.73 951.00,721.22 953.00,718.31 954.50,713.25 955.00,712.23 955.50,712.22 956.75,713.68 957.25,713.77 957.75,713.19 958.75,711.08 959.25,710.47 959.75,710.31 961.00,710.50 961.75,710.05 963.50,706.22 964.00,705.56 965.00,705.31 966.50,705.71 967.25,706.49 967.75,707.58 969.75,714.44 970.50,716.20 971.25,717.43 972.00,718.18 972.50,718.31 973.00,718.10 974.25,716.84 974.75,716.61 975.25,716.85 975.75,717.61 977.25,721.94 979.25,729.75 980.00,731.09 980.50,730.67 981.00,729.28 983.50,718.72 984.75,714.50 985.75,712.33 989.00,706.85 989.75,706.12 990.75,705.95 992.00,706.44 993.25,707.32 994.75,709.02 996.75,713.29 997.25,713.74 997.50,713.68 998.25,712.19 1000.50,703.60 1002.00,700.29" fill="none" stroke="#d80808" stroke-width="3.5" stroke-linejoin="round" stroke-linecap="butt"/>
<path d="M717.50,825.98 751.25,823.15 783.25,819.55 791.50,818.98 798.75,818.80 802.25,818.99 806.00,819.51 821.25,822.95 839.50,826.01 847.75,826.94 854.50,827.01 859.50,826.33 869.00,824.36 874.00,822.92 888.25,818.28 901.50,815.10 913.25,812.65 929.25,809.67 932.00,809.33 933.75,809.45 941.25,812.42 942.75,813.34 943.75,814.36 944.50,815.67 945.50,818.36 947.50,827.33 948.00,828.94 948.50,829.59 949.00,829.43 949.75,828.31 953.75,819.13 954.75,817.58 955.75,817.20 958.25,817.68 959.25,817.67 960.25,817.16 962.00,815.63 963.00,815.26 964.00,815.70 965.00,816.86 966.00,818.57 966.75,820.44 967.50,823.13 968.25,827.02 969.00,833.15 970.50,849.98 971.25,855.10 971.50,855.76 971.75,855.91 972.25,854.97 973.75,848.42 974.25,846.97 974.75,846.52 975.25,847.07 976.00,849.22 977.00,853.60 979.75,873.17 980.25,875.43 980.75,876.37 981.00,876.30 981.50,875.19 982.25,871.72 983.50,863.79 986.25,843.38 988.25,833.00 989.50,828.19 990.25,826.50 990.75,825.97 991.25,825.85 991.75,826.06 992.50,826.78 994.00,829.34 994.75,831.53 995.25,833.93 996.75,844.18 997.25,846.02 997.50,846.16 997.75,845.70 998.25,843.07 1000.50,821.83 1002.10,813.35" fill="none" stroke="#f06a6a" stroke-width="3.5" stroke-linejoin="round" stroke-linecap="butt"/>
<path d="M717.65,942.72 760.15,940.23 786.40,937.97 797.40,937.32 809.65,937.26 837.40,937.98 848.90,938.10 862.15,937.81 881.15,936.96 893.15,935.83 920.15,932.04 926.65,931.41 932.40,931.09 935.90,931.05 937.90,931.23 940.40,931.85 942.90,932.85 944.65,933.95 947.15,938.01 947.65,938.45 948.15,938.58 949.15,938.25 951.90,936.14 953.40,935.49 958.90,935.12 963.90,935.07 964.65,935.54 965.15,936.38 966.65,941.70 968.15,949.45 969.90,961.60 970.65,964.89 971.15,965.71 971.40,965.78 971.90,965.42 974.15,961.23 974.90,960.34 975.40,960.42 975.90,961.41 976.65,964.86 978.90,980.41 979.40,982.35 979.90,983.04 980.15,982.92 980.65,981.81 981.40,978.41 983.90,960.90 984.90,955.27 985.90,951.72 987.40,947.90 988.65,945.37 989.65,943.98 990.65,943.40 991.40,943.73 992.65,946.07 996.15,956.73 996.90,957.92 997.40,958.07 997.65,957.88 998.40,955.98 999.15,952.17 1001.91,933.05" fill="none" stroke="#f8cccc" stroke-width="3.5" stroke-linejoin="round" stroke-linecap="butt"/>
<path d="M1012.42,675.33 1022.92,675.77 1034.92,674.75 1038.17,674.75 1039.17,675.41 1040.67,677.44 1043.67,683.30 1044.17,683.75 1044.67,683.82 1045.17,683.57 1045.92,682.75 1051.17,675.13 1052.17,674.22 1052.92,673.92 1070.17,673.79 1091.92,672.25 1096.42,672.13 1098.92,672.31 1101.17,672.76 1103.42,673.49 1104.42,674.04 1105.17,674.85 1106.17,676.64 1107.67,680.02 1110.67,688.28 1111.42,689.34 1111.92,689.50 1112.42,689.25 1113.17,688.31 1115.42,684.10 1117.92,680.18 1118.92,678.89 1119.92,678.07 1121.17,677.70 1125.92,677.26 1128.92,676.66 1147.12,671.05" fill="none" stroke="#d80808" stroke-width="3.5" stroke-linejoin="round" stroke-linecap="butt"/>
<path d="M1012.94,831.18 1014.19,832.56 1026.69,849.28 1029.69,852.63 1031.19,853.82 1033.19,854.94 1043.19,859.02 1044.44,859.22 1045.44,858.82 1046.69,857.28 1048.94,853.41 1050.19,851.90 1053.44,849.49 1057.19,847.43 1063.44,845.11 1070.19,843.12 1074.94,842.28 1079.19,842.16 1084.69,842.78 1091.69,844.29 1095.44,845.63 1098.94,847.49 1102.19,849.74 1104.44,851.71 1105.69,853.59 1109.19,860.49 1110.19,861.57 1111.44,861.90 1117.44,860.64 1126.69,859.94 1128.44,859.20 1130.19,857.70 1134.19,852.63 1136.44,848.94 1140.94,839.19 1147.20,824.58" fill="none" stroke="#f06a6a" stroke-width="3.5" stroke-linejoin="round" stroke-linecap="butt"/>
<path d="M1012.94,928.34 1013.94,929.12 1029.44,944.57 1031.94,946.46 1033.94,947.23 1040.19,947.85 1042.94,947.93 1044.19,947.76 1045.69,947.05 1049.94,944.01 1055.69,941.22 1058.94,939.90 1064.69,937.95 1069.69,936.51 1073.44,936.04 1087.19,936.04 1089.19,936.28 1091.69,936.99 1101.94,940.90 1104.69,942.18 1106.44,943.51 1109.94,948.28 1110.94,949.30 1111.69,949.73 1113.19,949.92 1126.44,949.90 1127.94,949.53 1129.69,948.21 1131.44,946.19 1135.69,940.55 1140.94,931.92 1147.20,920.42" fill="none" stroke="#f8cccc" stroke-width="3.5" stroke-linejoin="round" stroke-linecap="butt"/>
<path d="M1157.22,669.08 1165.22,670.58 1169.47,671.77 1172.97,673.36 1182.47,678.52 1191.97,681.91 1195.22,683.38 1198.72,685.67 1201.97,688.61 1204.22,691.28 1206.72,695.23 1209.72,701.14 1211.97,706.59 1214.72,715.02 1217.22,724.12 1222.22,747.26 1227.22,773.65 1230.47,789.76 1233.72,803.95 1235.47,809.81 1236.97,813.58 1238.72,816.15 1239.47,816.82 1240.22,817.11 1241.22,816.85 1242.47,815.83 1244.22,813.89 1245.47,812.00 1247.22,808.14 1248.97,802.26 1252.22,788.37 1254.22,778.76 1263.97,725.14 1267.47,709.99 1268.97,704.65 1270.22,701.12 1272.47,696.36 1275.22,691.87 1277.97,688.54 1281.72,685.05 1284.47,683.08 1287.22,681.72 1290.72,680.65 1296.72,679.32" fill="none" stroke="#d80808" stroke-width="3.5" stroke-linejoin="round" stroke-linecap="butt"/>
<path d="M1157.30,791.48 1166.80,793.34 1172.30,794.90 1176.30,796.54 1184.80,800.61 1194.30,804.87 1198.30,807.19 1201.80,809.89 1205.05,813.24 1208.05,817.18 1210.30,820.78 1211.80,823.87 1213.55,828.50 1215.30,833.95 1220.55,852.34 1225.80,873.81 1229.05,886.06 1231.80,895.82 1234.30,903.78 1235.80,908.05 1236.80,910.11 1238.30,912.08 1239.05,912.60 1239.55,912.71 1240.55,912.42 1241.55,911.69 1243.05,910.12 1244.05,908.71 1246.30,903.93 1248.05,898.70 1250.30,889.54 1254.30,870.59 1260.80,837.70 1265.05,821.36 1266.80,815.91 1268.30,812.30 1270.55,808.38 1273.05,804.86 1275.55,802.19 1277.80,800.58 1281.80,798.76 1286.05,797.45 1290.30,796.69 1296.97,796.02" fill="none" stroke="#f06a6a" stroke-width="3.5" stroke-linejoin="round" stroke-linecap="butt"/>
<path d="M1157.30,890.94 1172.30,891.52 1175.55,892.01 1179.05,892.92 1189.05,896.41 1195.30,899.04 1201.30,902.30 1206.30,905.86 1208.80,908.33 1211.55,911.60 1214.80,916.06 1217.30,919.98 1220.30,925.73 1224.55,935.00 1230.55,950.26 1233.55,956.69 1235.05,959.27 1236.55,961.08 1238.30,962.58 1239.55,962.93 1240.30,962.72 1241.30,962.04 1244.55,958.79 1246.30,956.43 1247.80,953.54 1250.30,946.41 1258.55,918.15 1260.30,912.77 1261.55,909.77 1263.80,905.32 1265.80,901.87 1267.55,899.35 1269.30,897.40 1271.30,895.90 1274.55,894.14 1278.05,892.76 1281.05,891.93 1284.80,891.21 1296.97,889.68" fill="none" stroke="#f8cccc" stroke-width="3.5" stroke-linejoin="round" stroke-linecap="butt"/>
<line x1="854.5" y1="599.0" x2="854.5" y2="1017.4" stroke="#858585" stroke-width="2" stroke-dasharray="10.8 10.65"/>
<line x1="948.7" y1="599.0" x2="948.7" y2="1017.4" stroke="#858585" stroke-width="2" stroke-dasharray="10.8 10.65"/>
<line x1="982.4" y1="599.0" x2="982.4" y2="1017.4" stroke="#858585" stroke-width="2" stroke-dasharray="10.8 10.65"/>
<line x1="1043.6" y1="599.0" x2="1043.6" y2="1017.4" stroke="#858585" stroke-width="2" stroke-dasharray="10.8 10.65"/>
<line x1="1125.7" y1="599.0" x2="1125.7" y2="1017.4" stroke="#858585" stroke-width="2" stroke-dasharray="10.8 10.65"/>
<line x1="1238.6" y1="599.0" x2="1238.6" y2="1017.4" stroke="#858585" stroke-width="2" stroke-dasharray="10.8 10.65"/>
<g stroke="#000" stroke-width="1.7" fill="none">
<path d="M717.5,592.3 V1017.4" stroke-linecap="square"/>
<path d="M1297.3,592.3 V1017.4" stroke-linecap="square"/>
<path d="M717.5,592.3 H1002.4 M1012.4,592.3 H1147.5 M1157.5,592.3 H1297.3"/>
<path d="M998.0,600.5 L1006.8,584.1"/>
<path d="M1008.0,600.5 L1016.8,584.1"/>
<path d="M1143.1,600.5 L1151.9,584.1"/>
<path d="M1153.1,600.5 L1161.9,584.1"/>
<path d="M717.5,1017.4 H1002.4 M1012.4,1017.4 H1147.5 M1157.5,1017.4 H1297.3"/>
<path d="M998.0,1025.6 L1006.8,1009.2"/>
<path d="M1008.0,1025.6 L1016.8,1009.2"/>
<path d="M1143.1,1025.6 L1151.9,1009.2"/>
<path d="M1153.1,1025.6 L1161.9,1009.2"/>
<path d="M717.8,1017.4 V1026.2"/>
<path d="M839.7,1017.4 V1026.2"/>
<path d="M961.9,1017.4 V1026.2"/>
<path d="M1059.0,1017.4 V1026.2"/>
<path d="M1109.4,1017.4 V1026.2"/>
<path d="M1212.4,1017.4 V1026.2"/>
<path d="M1297.3,1017.4 V1026.2"/>
</g>
<text transform="translate(717.8,1045.6) scale(1.03,1)" text-anchor="middle" font-family='"Liberation Serif", serif' font-weight="bold" font-size="17.5">4000</text>
<text transform="translate(839.7,1045.6) scale(1.03,1)" text-anchor="middle" font-family='"Liberation Serif", serif' font-weight="bold" font-size="17.5">3500</text>
<text transform="translate(961.9,1045.6) scale(1.03,1)" text-anchor="middle" font-family='"Liberation Serif", serif' font-weight="bold" font-size="17.5">3000</text>
<text transform="translate(1059.0,1045.6) scale(1.03,1)" text-anchor="middle" font-family='"Liberation Serif", serif' font-weight="bold" font-size="17.5">1080</text>
<text transform="translate(1109.4,1045.6) scale(1.03,1)" text-anchor="middle" font-family='"Liberation Serif", serif' font-weight="bold" font-size="17.5">1040</text>
<text transform="translate(1212.4,1045.6) scale(1.03,1)" text-anchor="middle" font-family='"Liberation Serif", serif' font-weight="bold" font-size="17.5">740</text>
<text transform="translate(1297.3,1045.6) scale(1.03,1)" text-anchor="middle" font-family='"Liberation Serif", serif' font-weight="bold" font-size="17.5">720</text>
<text transform="translate(845.10,620.25) rotate(-90)" text-anchor="middle" font-family='"Liberation Serif", serif' font-weight="bold" font-size="18">3440</text>
<text transform="translate(940.20,619.60) rotate(-90)" text-anchor="middle" font-family='"Liberation Serif", serif' font-weight="bold" font-size="18">3054</text>
<text transform="translate(974.30,620.00) rotate(-90)" text-anchor="middle" font-family='"Liberation Serif", serif' font-weight="bold" font-size="18">2925</text>
<text transform="translate(1035.40,617.70) rotate(-90)" text-anchor="middle" font-family='"Liberation Serif", serif' font-weight="bold" font-size="18">1097</text>
<text transform="translate(1116.80,620.10) rotate(-90)" text-anchor="middle" font-family='"Liberation Serif", serif' font-weight="bold" font-size="18">1030</text>
<text transform="translate(1230.00,618.90) rotate(-90)" text-anchor="middle" font-family='"Liberation Serif", serif' font-weight="bold" font-size="18">733</text>
<text transform="translate(740.90,650.9) scale(1.026,1)" font-family='"Liberation Serif", serif' font-size="50">Phe</text>
<text transform="translate(845.6,762.8) scale(1.03,1)" text-anchor="end" font-family='"Liberation Serif", serif' font-weight="bold" font-size="37.5">0 min</text>
<text transform="translate(845.6,869.2) scale(1.03,1)" text-anchor="end" font-family='"Liberation Serif", serif' font-weight="bold" font-size="37.5">5 min</text>
<text transform="translate(845.6,988.6) scale(1.03,1)" text-anchor="end" font-family='"Liberation Serif", serif' font-weight="bold" font-size="37.5">10 min</text>
<text x="677.2" y="582.8" font-family='"Liberation Sans", sans-serif' font-weight="bold" font-size="30.5">D</text>
<text transform="translate(698.3,804.8) rotate(-90)" text-anchor="middle" font-family='"Liberation Serif", serif' font-weight="bold" font-size="26">Transmittance (%)</text>
<text x="1007.4" y="1086.4" text-anchor="middle" font-family='"Liberation Serif", serif' font-weight="bold" font-size="26">Wavenumbers (cm<tspan font-size="18" dy="-11.5">-1</tspan><tspan dy="11.5">)</tspan></text>
</svg>
</body></html>
